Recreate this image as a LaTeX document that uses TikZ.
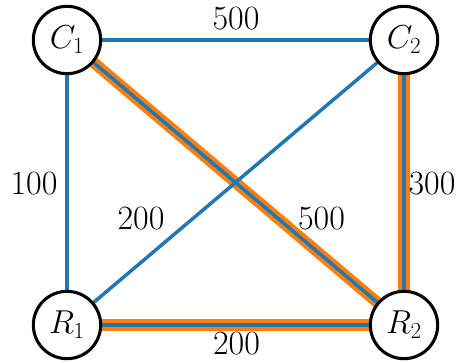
\documentclass[tikz,border=0pt]{standalone}
\definecolor{tabblue}{HTML}{1F77B4}
\definecolor{taborange}{HTML}{FF7F0E}
\pgfdeclarelayer{bg}
\pgfsetlayers{bg,main}
\begin{document}
\begin{tikzpicture}[x=0.75pt,y=-0.75pt,
  vert/.style={circle,draw=black,fill=white,line width=2.3pt,minimum size=50.5pt,inner sep=0pt,font=\fontsize{25.5}{30}\selectfont},
  elabel/.style={inner sep=0pt,font=\fontsize{25.5}{30}\selectfont},
  edge/.style={draw=tabblue,line width=2.6pt},
  hl/.style={draw=taborange,line width=8.5pt}]
\useasboundingbox (0,0) rectangle (458,362);
\node[vert] (C1) at (67,40) {$C_1$};
\node[vert] (C2) at (404,40) {$C_2$};
\node[vert] (R1) at (67,325) {$R_1$};
\node[vert] (R2) at (404,325) {$R_2$};
\begin{pgfonlayer}{bg}
\path[hl] (C1.center) -- (R2.center);
\path[hl] (C2.center) -- (R2.center);
\path[hl] (R1.center) -- (R2.center);
\path[edge] (C1.center) -- (C2.center);
\path[edge] (C1.center) -- (R1.center);
\path[edge] (C1.center) -- (R2.center);
\path[edge] (C2.center) -- (R1.center);
\path[edge] (C2.center) -- (R2.center);
\path[edge] (R1.center) -- (R2.center);
\end{pgfonlayer}
\node[elabel] (l1) at (236,19) {500};
\node[elabel] (l2) at (34,184) {100};
\node[elabel] (l3) at (432,184) {300};
\node[elabel] (l4) at (141,219) {200};
\node[elabel] (l5) at (321.5,219) {500};
\node[elabel] (l6) at (236.5,343.5) {200};
\end{tikzpicture}
\end{document}
